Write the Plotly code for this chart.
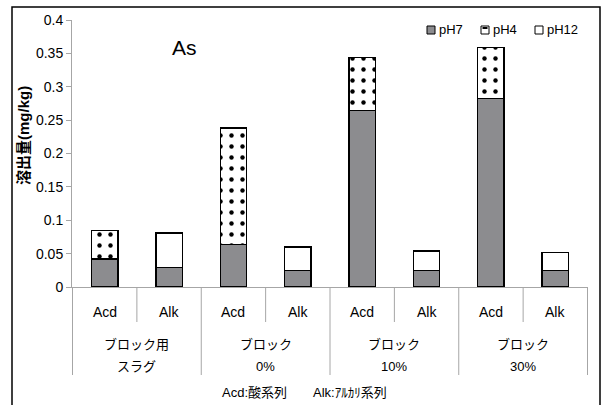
import plotly.graph_objects as go

# ---- data -------------------------------------------------------------
groups_line1 = ["ブロック用", "ブロック", "ブロック", "ブロック"]
groups_line2 = ["スラグ", "0%", "10%", "30%"]
series_types = ["Acd", "Alk"]

ph7 = [0.042, 0.029, 0.064, 0.025, 0.264, 0.025, 0.282, 0.025]
ph4 = [0.043, None, 0.174, None, 0.080, None, 0.077, None]
ph12 = [None, 0.052, None, 0.035, None, 0.029, None, 0.027]

y_ticks = [0, 0.05, 0.1, 0.15, 0.2, 0.25, 0.3, 0.35, 0.4]

# one category per bar: "<group>|<series type>"
cats = [f"{g1}{g2}|{s}" for g1, g2 in zip(groups_line1, groups_line2) for s in series_types]
inner_labels = [s for _ in groups_line1 for s in series_types]

# ---- layout geometry (pixels) ----------------------------------------
W, H = 615, 405
L, R, T, B = 72, 27, 20, 118
PW, PH = W - L - R, H - T - B


def px(x):
    return (x - L) / PW


def py(y):
    return (H - B - y) / PH


FONT = "Liberation Sans, Arial, Noto Sans CJK JP, sans-serif"
GRAY = "#8c8c8f"
LINE = "#a6a6a6"

fig = go.Figure()
outline = dict(color="black", width=1.3)
fig.add_trace(go.Bar(x=cats, y=ph7, name="pH7",
                     marker=dict(color=GRAY, line=outline)))
fig.add_trace(go.Bar(x=cats, y=ph4, name="pH4",
                     marker=dict(color="white", line=outline,
                                 pattern=dict(shape=".", fgcolor="black", bgcolor="white",
                                              size=11, solidity=0.13, fgopacity=1))))
fig.add_trace(go.Bar(x=cats, y=ph12, name="pH12",
                     marker=dict(color="white", line=outline)))

shapes = []
annotations = []

# category separators below the axis
n = len(cats)
for i in range(n + 1):
    is_group_edge = (i % 2 == 0)
    shapes.append(dict(type="line", xref="x", yref="paper",
                       x0=i - 0.5, x1=i - 0.5,
                       y0=0, y1=py(375 if is_group_edge else 322),
                       line=dict(color=LINE, width=1)))

# inner labels (Acd / Alk)
for c, lab in zip(cats, inner_labels):
    annotations.append(dict(x=c, xref="x", y=py(312), yref="paper", text=lab,
                            showarrow=False, yanchor="middle",
                            font=dict(family=FONT, size=14, color="black")))

# group labels (two lines each)
for gi, (l1, l2) in enumerate(zip(groups_line1, groups_line2)):
    xc = 2 * gi + 0.5
    annotations.append(dict(x=xc, xref="x", y=py(344), yref="paper", text=l1,
                            showarrow=False, yanchor="middle",
                            font=dict(family=FONT, size=13, color="black")))
    annotations.append(dict(x=xc, xref="x", y=py(366), yref="paper", text=l2,
                            showarrow=False, yanchor="middle",
                            font=dict(family=FONT, size=13, color="black")))

# element label
annotations.append(dict(x=px(184), y=py(47), xref="paper", yref="paper", text="As",
                        showarrow=False, xanchor="center", yanchor="middle",
                        font=dict(family=FONT, size=21, color="black")))

# y-axis title
annotations.append(dict(x=px(23), y=py(136), xref="paper", yref="paper",
                        text="<b>溶出量(mg/kg)</b>", textangle=-90,
                        showarrow=False, xanchor="center", yanchor="middle",
                        font=dict(family=FONT, size=15, color="black")))

# footnote
annotations.append(dict(x=px(304), y=py(392), xref="paper", yref="paper",
                        text="Acd:酸系列　　Alk:ｱﾙｶﾘ系列",
                        showarrow=False, xanchor="center", yanchor="middle",
                        font=dict(family=FONT, size=13, color="black")))

# legend (drawn by hand to keep the compact Excel-like spacing)
legend_items = [("pH7", 427, GRAY), ("pH4", 481, "white"), ("pH12", 535, "white")]
for name, x0, col in legend_items:
    shapes.append(dict(type="rect", xref="paper", yref="paper",
                       x0=px(x0), x1=px(x0 + 8), y0=py(34), y1=py(26),
                       fillcolor=col, line=dict(color="black", width=1)))
    if name == "pH4":
        shapes.append(dict(type="rect", xref="paper", yref="paper",
                           x0=px(x0 + 1.5), x1=px(x0 + 6.5), y0=py(29), y1=py(27),
                           fillcolor="black", line=dict(width=0)))
    annotations.append(dict(x=px(x0 + 10), y=py(30), xref="paper", yref="paper",
                            text=name, showarrow=False, xanchor="left", yanchor="middle",
                            font=dict(family=FONT, size=13, color="black")))

# outer frame
shapes.append(dict(type="rect", xref="paper", yref="paper",
                   x0=px(12), x1=px(600), y0=py(420), y1=py(7),
                   line=dict(color="black", width=1.5), fillcolor="rgba(0,0,0,0)"))

fig.update_layout(
    width=W, height=H,
    margin=dict(l=L, r=R, t=T, b=B, pad=0),
    barmode="stack",
    bargap=0.59,
    showlegend=False,
    plot_bgcolor="white",
    paper_bgcolor="white",
    shapes=shapes,
    annotations=annotations,
    font=dict(family=FONT, size=14, color="black"),
)
fig.update_xaxes(type="category", categoryorder="array", categoryarray=cats,
                 showticklabels=False, ticks="", showline=True,
                 linecolor=LINE, linewidth=1, showgrid=False, zeroline=False)
fig.update_yaxes(range=[0, 0.4], tickvals=y_ticks,
                 ticktext=[f"{v:g}" for v in y_ticks],
                 ticks="outside", ticklen=5, tickcolor=LINE,
                 showline=True, linecolor=LINE, linewidth=1,
                 showgrid=False, zeroline=False,
                 tickfont=dict(family=FONT, size=14, color="black"))

fig.write_html("out.html")
